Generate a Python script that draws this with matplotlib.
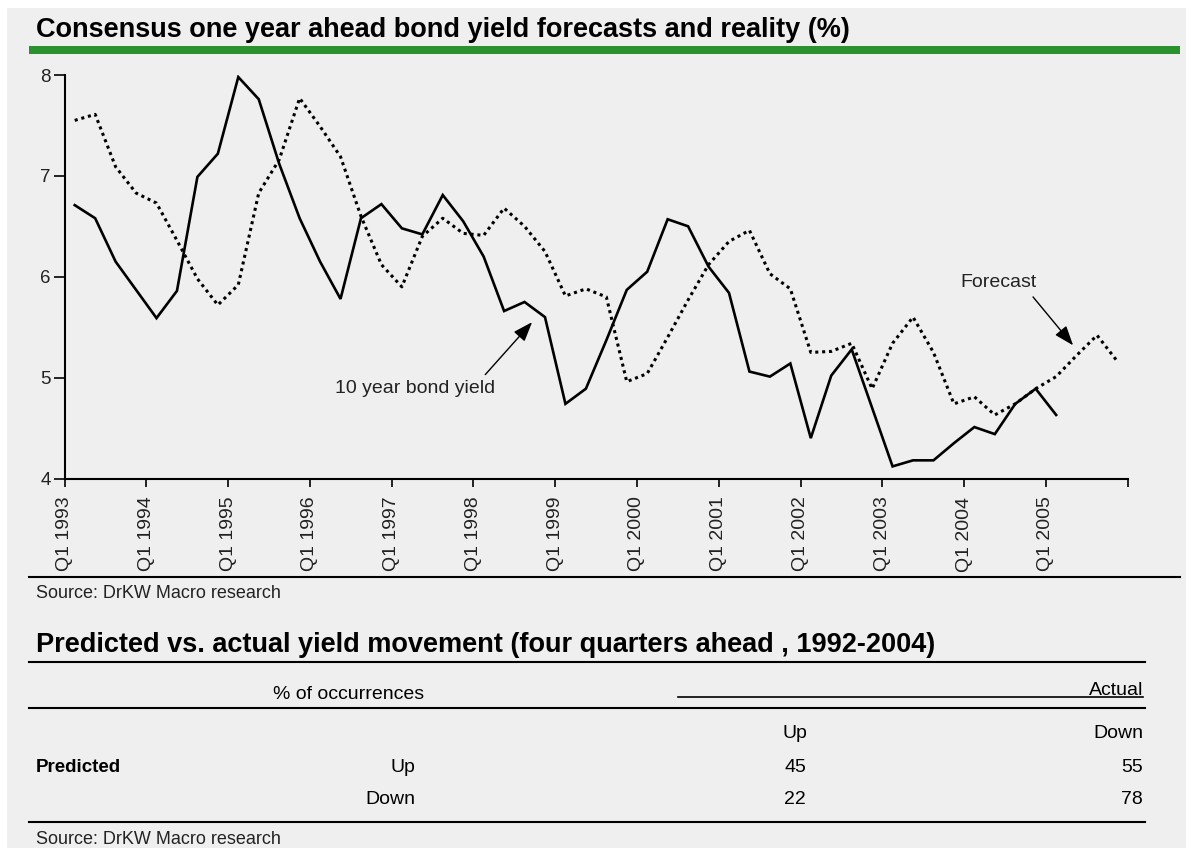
import numpy as np
import matplotlib
matplotlib.use('Agg')
import matplotlib.pyplot as plt
from matplotlib.lines import Line2D
from matplotlib.patches import Rectangle
from matplotlib import font_manager

# Quarterly data, Q1 1993 onwards
years = list(range(1993, 2006))
tick_labels = ['Q1 %d' % y for y in years]

# 10 year bond yield, Q1 1993 - Q1 2005 (%)
bond_yield = [6.71, 6.58, 6.15, 5.87, 5.59, 5.86, 6.99, 7.22,
              7.98, 7.76, 7.12, 6.58, 6.15, 5.78, 6.58, 6.72,
              6.48, 6.42, 6.81, 6.55, 6.20, 5.66, 5.75, 5.60,
              4.74, 4.89, 5.37, 5.87, 6.05, 6.57, 6.50, 6.10,
              5.84, 5.06, 5.01, 5.14, 4.40, 5.02, 5.28, 4.70,
              4.12, 4.18, 4.18, 4.35, 4.51, 4.44, 4.74, 4.89,
              4.63]

# consensus forecast made one year earlier, Q1 1993 - Q4 2005 (%)
forecast = [7.55, 7.61, 7.09, 6.83, 6.73, 6.36, 5.98, 5.72,
            5.92, 6.83, 7.16, 7.77, 7.49, 7.19, 6.60, 6.12,
            5.90, 6.40, 6.58, 6.43, 6.41, 6.68, 6.50, 6.25,
            5.81, 5.88, 5.80, 4.96, 5.04, 5.40, 5.77, 6.12,
            6.35, 6.46, 6.03, 5.88, 5.25, 5.26, 5.34, 4.89,
            5.34, 5.60, 5.25, 4.74, 4.81, 4.63, 4.74, 4.89,
            5.01, 5.22, 5.42, 5.16]

# predicted vs actual table (% of occurrences)
predicted_rows = ['Up', 'Down']
actual_cols = ['Up', 'Down']
actual_up = [45, 22]
actual_down = [55, 78]

W, H = 1186, 848
BG = '#efefef'
GREEN = '#2b912f'

names = {f.name for f in font_manager.fontManager.ttflist}
SANS = 'Liberation Sans' if 'Liberation Sans' in names else 'DejaVu Sans'
NARROW = 'Liberation Sans Narrow' if 'Liberation Sans Narrow' in names else SANS
plt.rcParams['font.family'] = [SANS, 'DejaVu Sans']


def fx(px):
    return px / W


def fy(py):
    return 1 - py / H


def hline(fig, x0, x1, y, lw=1.5):
    fig.add_artist(Line2D([fx(x0), fx(x1)], [fy(y), fy(y)],
                          transform=fig.transFigure, color='black', lw=lw))


fig = plt.figure(figsize=(W / 100, H / 100), dpi=100, facecolor='white')
fig.patches.append(Rectangle((fx(7), 0), 1 - fx(7), fy(8), transform=fig.transFigure,
                             facecolor=BG, edgecolor='none', zorder=-10))

# header
fig.text(fx(36), fy(37), 'Consensus one year ahead bond yield forecasts and reality (%)',
         fontsize=19.5, fontweight='bold', va='baseline', ha='left')
fig.patches.append(Rectangle((fx(29), fy(54)), fx(1180) - fx(29), fy(46) - fy(54),
                             transform=fig.transFigure, facecolor=GREEN,
                             edgecolor='none'))

# line chart
left, right, top, bottom = 64.5, 1127.7, 75, 478.5
ax = fig.add_axes([fx(left), fy(bottom), fx(right) - fx(left), fy(top) - fy(bottom)])
ax.set_facecolor('none')

x_actual = np.arange(len(bond_yield))
x_fc = np.arange(len(forecast))
ax.plot(x_actual, bond_yield, color='black', lw=1.9, solid_joinstyle='miter')
ax.plot(x_fc, forecast, color='black', lw=2.2, linestyle=(0, (1.0, 1.25)))

ax.set_xlim(-0.5, len(forecast) - 0.5)
ax.set_ylim(4, 8)
ax.set_yticks([4, 5, 6, 7, 8])
xt = np.arange(-0.5, len(forecast), 4)
ax.set_xticks(xt)
ax.set_xticklabels(tick_labels + [''] * (len(xt) - len(tick_labels)),
                   rotation=90, ha='center', va='top')
for s in ['top', 'right']:
    ax.spines[s].set_visible(False)
for s in ['left', 'bottom']:
    ax.spines[s].set_linewidth(1.5)
ax.tick_params(axis='y', length=8, width=1.2, pad=2, labelsize=13.5, labelcolor='#222222')
ax.tick_params(axis='x', length=6, width=1.2, pad=7, labelsize=14, labelcolor='#222222')

ax.text(16.65, 4.89, '10 year bond yield', fontsize=14, ha='center', va='center',
        color='#222222')
ax.annotate('', xy=(22.37, 5.55), xytext=(20.08, 5.03),
            arrowprops=dict(arrowstyle='-|>,head_length=0.6,head_width=0.22',
                            color='black', lw=1.0, mutation_scale=20,
                            shrinkA=0, shrinkB=0))
ax.text(45.2, 5.94, 'Forecast', fontsize=14, ha='center', va='center', color='#222222')
ax.annotate('', xy=(48.83, 5.32), xytext=(46.87, 5.80),
            arrowprops=dict(arrowstyle='-|>,head_length=0.6,head_width=0.22',
                            color='black', lw=1.0, mutation_scale=20,
                            shrinkA=0, shrinkB=0))

hline(fig, 29, 1180, 577.3, lw=1.5)
fig.text(fx(36), fy(594), 'Source: DrKW Macro research', fontsize=13, va='center',
         color='#222222')

# table
fig.text(fx(36), fy(652), 'Predicted vs. actual yield movement (four quarters ahead , 1992-2004)',
         fontsize=19.5, fontweight='bold', va='baseline', ha='left')
hline(fig, 29, 1145, 661.5, lw=1.5)
fig.text(fx(349), fy(699), '% of occurrences', fontsize=14, family=NARROW,
         ha='center', va='baseline')
fig.text(fx(1143), fy(695), 'Actual', fontsize=14, family=NARROW,
         ha='right', va='baseline')
hline(fig, 678, 1143, 697, lw=1.2)
hline(fig, 29, 1145, 707.7, lw=1.5)

col_x = [(795, 'center'), (1143, 'right')]
for (cx, ha), lab in zip(col_x, actual_cols):
    fig.text(fx(cx), fy(734), lab, fontsize=14, family=NARROW, ha=ha, va='center')

fig.text(fx(36), fy(767), 'Predicted', fontsize=13.5, fontweight='bold', va='center')
row_y = [767, 800]
for ry, lab, up, down in zip(row_y, predicted_rows, actual_up, actual_down):
    fig.text(fx(415), fy(ry), lab, fontsize=14, family=NARROW, ha='right', va='center')
    fig.text(fx(col_x[0][0]), fy(ry), str(up), fontsize=14, family=NARROW,
             ha='center', va='center')
    fig.text(fx(col_x[1][0]), fy(ry), str(down), fontsize=14, family=NARROW,
             ha='right', va='center')

hline(fig, 29, 1145, 821.5, lw=1.5)
fig.text(fx(36), fy(839), 'Source: DrKW Macro research', fontsize=13, va='center',
         color='#222222')

fig.savefig('out.png', dpi=100, facecolor=fig.get_facecolor())
